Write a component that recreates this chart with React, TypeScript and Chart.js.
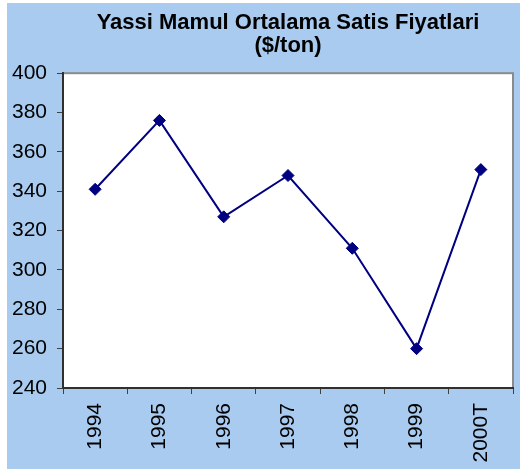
import { useEffect, useRef } from "react";
import { Chart, registerables } from "chart.js";

Chart.register(...registerables);

const categories = ["1994", "1995", "1996", "1997", "1998", "1999", "2000T"];
const prices = [341, 376, 327, 348, 311, 260, 351];
const titleLines = ["Yassi Mamul Ortalama Satis Fiyatlari", "($/ton)"];
const yMin = 240;
const yMax = 400;
const yStep = 20;

const FONT = "'Liberation Sans', Arial, Helvetica, sans-serif";

const plotBg = {
  id: "plotBg",
  beforeDraw(chart: any) {
    const { ctx, chartArea: a } = chart;
    ctx.save();
    ctx.fillStyle = "#ffffff";
    ctx.fillRect(a.left, a.top, a.right - a.left, a.bottom - a.top);
    ctx.strokeStyle = "#8a8a8a";
    ctx.lineWidth = 2;
    ctx.strokeRect(a.left, a.top, a.right - a.left, a.bottom - a.top);
    ctx.restore();
  },
};

export default function App() {
  const ref = useRef<HTMLCanvasElement | null>(null);

  useEffect(() => {
    if (!ref.current) return;
    const chart = new Chart(ref.current, {
      type: "line",
      data: {
        labels: categories,
        datasets: [
          {
            data: prices,
            borderColor: "#000080",
            backgroundColor: "#000080",
            borderWidth: 2,
            pointStyle: "rectRot",
            pointRadius: 6,
            pointBorderWidth: 1,
            pointBackgroundColor: "#000080",
            pointBorderColor: "#000080",
            tension: 0,
            fill: false,
          },
        ],
      },
      options: {
        animation: false,
        responsive: true,
        maintainAspectRatio: false,
        layout: { padding: { left: 0, right: 3, top: 0, bottom: 0 } },
        plugins: {
          legend: { display: false },
          tooltip: { enabled: false },
          title: {
            display: true,
            text: titleLines,
            fullSize: false,
            color: "#000000",
            font: { family: FONT, size: 22, weight: "bold", lineHeight: 1.05 },
            padding: { top: 8, bottom: 16 },
          },
        },
        scales: {
          x: {
            type: "category",
            offset: true,
            grid: {
              display: true,
              drawOnChartArea: false,
              offset: true,
              tickLength: 6,
              color: "#404040",
              lineWidth: 1,
            },
            border: { display: true, color: "#303030", width: 2 },
            ticks: {
              minRotation: 90,
              maxRotation: 90,
              padding: 9,
              color: "#000000",
              font: { family: FONT, size: 21 },
            },
            afterFit: (s: any) => {
              s.height = 81;
            },
          },
          y: {
            min: yMin,
            max: yMax,
            ticks: {
              stepSize: yStep,
              padding: 10,
              color: "#000000",
              font: { family: FONT, size: 21 },
            },
            grid: {
              display: true,
              drawOnChartArea: false,
              tickLength: 6,
              color: "#404040",
              lineWidth: 1,
            },
            border: { display: true, color: "#303030", width: 2 },
            afterFit: (s: any) => {
              s.width = 56;
            },
          },
        },
      } as any,
      plugins: [plotBg],
    });
    return () => chart.destroy();
  }, []);

  return (
    <div
      style={{
        position: "absolute",
        left: 7,
        top: 3,
        width: 513,
        height: 466,
        background: "#A8CBEF",
      }}
    >
      <canvas ref={ref} />
    </div>
  );
}
